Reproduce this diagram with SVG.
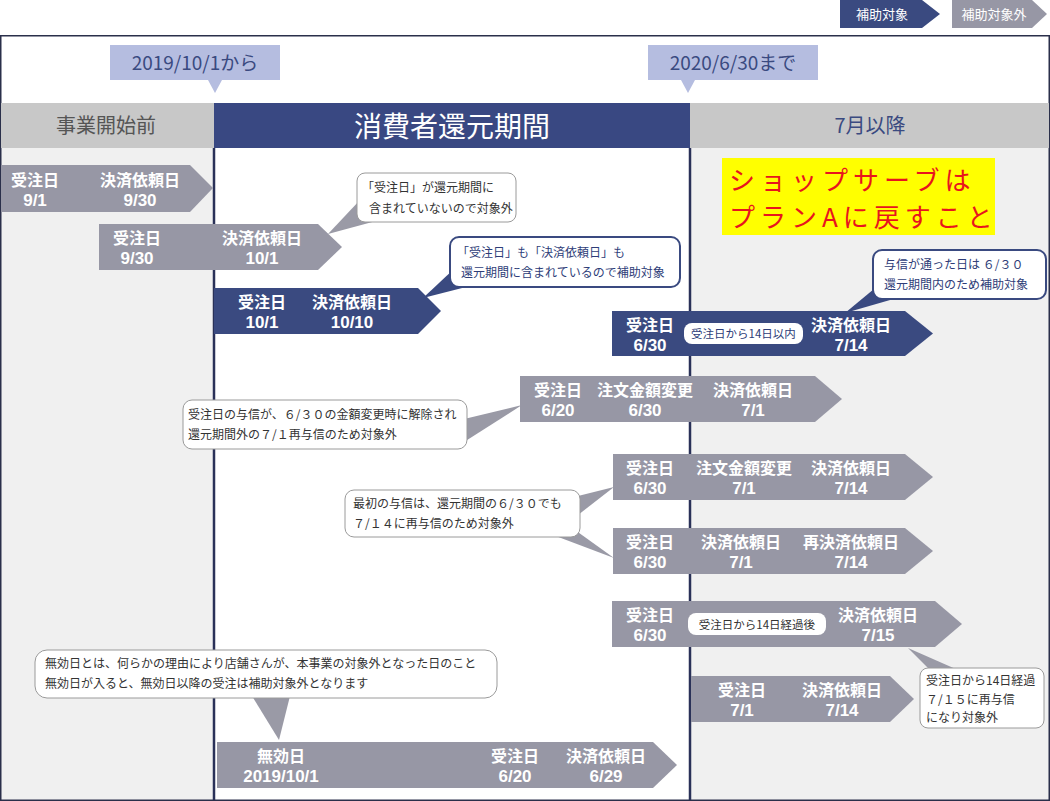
<svg xmlns="http://www.w3.org/2000/svg" width="1050" height="801" viewBox="0 0 1050 801">
<style>
text{font-family:"Noto Sans CJK JP","Noto Sans",sans-serif}
.navy{fill:#3a4a80}
.gray{fill:#9797a5}
.al{font-size:16px;font-weight:bold;fill:#fff;text-anchor:middle}
.dt{font-family:"Liberation Sans",Arial,sans-serif;font-size:17px;font-weight:bold;fill:#fff;text-anchor:middle}
.ct{font-size:12px;fill:#333}
.cn{font-size:12px;fill:#2e3d78}
.cbox{fill:#fff;stroke:#9a9a9a;stroke-width:1}
.nbox{fill:#fff;stroke:#3a4a80;stroke-width:2}
.pill{fill:#fff}
.pt{font-size:11.5px;text-anchor:middle}
.vl{stroke:#2a3158;stroke-width:2.5}
.hand{font-size:26px;fill:#e8141e;letter-spacing:5px}
</style>
<rect width="1050" height="801" fill="#fff"/>

<g id="legend">
<polygon class="navy" points="840,0 922,0 940,14 922,28 840,28"/>
<text x="882" y="19" font-size="13" fill="#fff" text-anchor="middle">補助対象</text>
<polygon class="gray" points="952,0 1032,0 1047,14 1032,28 952,28"/>
<text x="994" y="19" font-size="13" fill="#fff" text-anchor="middle">補助対象外</text>
</g>

<g id="frame">
<rect x="1" y="148" width="213" height="652" fill="#f0f0f0"/>
<rect x="690" y="148" width="359" height="652" fill="#f0f0f0"/>
<rect x="0.75" y="35.75" width="1048.5" height="764.5" fill="none" stroke="#2a2f4a" stroke-width="1.5"/>
</g>

<g id="header">
<rect x="1" y="103" width="213" height="45" fill="#c8c8c8"/>
<text x="106" y="133" font-size="20" fill="#555" text-anchor="middle">事業開始前</text>
<rect x="214" y="103" width="476" height="45" fill="#394882"/>
<text x="452" y="137" font-size="28" fill="#fff" text-anchor="middle">消費者還元期間</text>
<rect x="690" y="103" width="359" height="45" fill="#c8c8c8"/>
<text x="870" y="133" font-size="20" fill="#3a4a80" text-anchor="middle">7月以降</text>
</g>

<g id="date-start">
<rect x="110" y="45" width="170" height="35" fill="#b5bde0"/>
<polygon points="208,80 222,80 215,93" fill="#b5bde0"/>
<text x="195" y="70" font-size="19" fill="#3a4a80" text-anchor="middle">2019/10/1から</text>
</g>
<g id="date-end">
<rect x="648" y="45" width="170" height="35" fill="#b5bde0"/>
<polygon points="681,80 695,80 688,93" fill="#b5bde0"/>
<text x="733" y="70" font-size="19" fill="#3a4a80" text-anchor="middle">2020/6/30まで</text>
</g>

<g id="connectors">
<line class="vl" x1="214" y1="148" x2="214" y2="800"/>
<line class="vl" x1="690" y1="148" x2="690" y2="800"/>
</g>

<g id="note-yellow">
<rect x="722" y="158" width="273" height="77" fill="#ffff00"/>
<text class="hand" x="729" y="190">ショップサーブは</text>
<text class="hand" x="729" y="227">プランAに戻すこと</text>
</g>

<g id="arrow1">
<polygon class="gray" points="1,165 190,165 213,188 190,212 1,212"/>
<text class="al" x="35" y="186">受注日</text><text class="dt" x="35" y="206">9/1</text>
<text class="al" x="140" y="186">決済依頼日</text><text class="dt" x="140" y="206">9/30</text>
</g>
<g id="arrow2">
<polygon class="gray" points="99,224 318,224 342,247 318,270 99,270"/>
<text class="al" x="137" y="244">受注日</text><text class="dt" x="137" y="264">9/30</text>
<text class="al" x="262" y="244">決済依頼日</text><text class="dt" x="262" y="264">10/1</text>
</g>
<g id="arrow3">
<polygon class="navy" points="214,288 418,288 441,311 418,334 214,334"/>
<text class="al" x="262" y="308">受注日</text><text class="dt" x="262" y="328">10/1</text>
<text class="al" x="352" y="308">決済依頼日</text><text class="dt" x="352" y="328">10/10</text>
</g>
<g id="arrow4">
<polygon class="navy" points="612,311 905,311 933,333.5 905,356 612,356"/>
<text class="al" x="650" y="331">受注日</text><text class="dt" x="650" y="351">6/30</text>
<rect class="pill" x="684" y="323" width="119" height="21" rx="8"/>
<text class="pt" x="743.5" y="338" fill="#2e3d78">受注日から14日以内</text>
<text class="al" x="851" y="331">決済依頼日</text><text class="dt" x="851" y="351">7/14</text>
</g>
<g id="arrow5">
<polygon class="gray" points="520,376 815,376 842,399 815,422 520,422"/>
<text class="al" x="558" y="396">受注日</text><text class="dt" x="558" y="416">6/20</text>
<text class="al" x="645" y="396">注文金額変更</text><text class="dt" x="645" y="416">6/30</text>
<text class="al" x="753" y="396">決済依頼日</text><text class="dt" x="753" y="416">7/1</text>
</g>
<g id="arrow6">
<polygon class="gray" points="613,454 905,454 933,477 905,500 613,500"/>
<text class="al" x="650" y="474">受注日</text><text class="dt" x="650" y="494">6/30</text>
<text class="al" x="744" y="474">注文金額変更</text><text class="dt" x="744" y="494">7/1</text>
<text class="al" x="851" y="474">決済依頼日</text><text class="dt" x="851" y="494">7/14</text>
</g>
<g id="arrow7">
<polygon class="gray" points="613,528 905,528 933,551 905,574 613,574"/>
<text class="al" x="650" y="548">受注日</text><text class="dt" x="650" y="568">6/30</text>
<text class="al" x="741" y="548">決済依頼日</text><text class="dt" x="741" y="568">7/1</text>
<text class="al" x="851" y="548">再決済依頼日</text><text class="dt" x="851" y="568">7/14</text>
</g>
<g id="arrow8">
<polygon class="gray" points="612,601 935,601 962,624 935,647 612,647"/>
<text class="al" x="650" y="621">受注日</text><text class="dt" x="650" y="641">6/30</text>
<rect class="pill" x="688" y="613" width="138" height="22" rx="8"/>
<text class="pt" x="757" y="629" fill="#333">受注日から14日経過後</text>
<text class="al" x="878" y="621">決済依頼日</text><text class="dt" x="878" y="641">7/15</text>
</g>
<g id="arrow9">
<polygon class="gray" points="691,676 890,676 914,699 890,722 691,722"/>
<text class="al" x="742" y="696">受注日</text><text class="dt" x="742" y="716">7/1</text>
<text class="al" x="842" y="696">決済依頼日</text><text class="dt" x="842" y="716">7/14</text>
</g>
<g id="arrow10">
<polygon class="gray" points="217,742 653,742 677,765 653,788 217,788"/>
<text class="al" x="281" y="762">無効日</text><text class="dt" x="281" y="782">2019/10/1</text>
<text class="al" x="515" y="762">受注日</text><text class="dt" x="515" y="782">6/20</text>
<text class="al" x="606" y="762">決済依頼日</text><text class="dt" x="606" y="782">6/29</text>
</g>

<g id="callout-a">
<polygon points="360,200 376,221 328,234" fill="#9a9aa6"/>
<rect class="cbox" x="357" y="173" width="159" height="49" rx="8"/>
<text class="ct" x="362" y="192">「受注日」が還元期間に</text>
<text class="ct" x="369" y="213">含まれていないので対象外</text>
</g>
<g id="callout-b">
<polygon points="455,268 470,286 423,298" fill="#3a4a80"/>
<rect class="nbox" x="450" y="237" width="230" height="50" rx="9"/>
<text class="cn" x="457" y="257">「受注日」も「決済依頼日」も</text>
<text class="cn" x="461" y="277">還元期間に含まれているので補助対象</text>
</g>
<g id="callout-c">
<polygon points="880,284 897,298 845,313" fill="#3a4a80"/>
<rect class="nbox" x="873" y="250" width="173" height="49" rx="9"/>
<text class="cn" x="884" y="269">与信が通った日は ６/３０</text>
<text class="cn" x="884" y="289">還元期間内のため補助対象</text>
</g>
<g id="callout-d">
<polygon points="460,420 464,442 522,405" fill="#9a9aa6"/>
<rect class="cbox" x="183" y="400" width="284" height="49" rx="9"/>
<text class="ct" x="188" y="419">受注日の与信が、６/３０の金額変更時に解除され</text>
<text class="ct" x="188" y="439">還元期間外の７/１再与信のため対象外</text>
</g>
<g id="callout-e">
<polygon points="574,497 578,515 614,487" fill="#9a9aa6"/>
<polygon points="553,535 575,530 614,558" fill="#9a9aa6"/>
<rect class="cbox" x="345" y="490" width="235" height="47" rx="9"/>
<text class="ct" x="353" y="508">最初の与信は、還元期間の６/３０でも</text>
<text class="ct" x="353" y="528">７/１４に再与信のため対象外</text>
</g>
<g id="callout-f">
<polygon points="252,696 290,696 279,740" fill="#9a9aa6"/>
<rect class="cbox" x="35" y="650" width="462" height="48" rx="12"/>
<text class="ct" x="45" y="668">無効日とは、何らかの理由により店舗さんが、本事業の対象外となった日のこと</text>
<text class="ct" x="45" y="688">無効日が入ると、無効日以降の受注は補助対象外となります</text>
</g>
<g id="callout-g">
<polygon points="908,648 930,670 958,670" fill="#9a9aa6"/>
<rect class="cbox" x="920" y="668" width="124" height="60" rx="8"/>
<text class="ct" x="926" y="685">受注日から14日経過</text>
<text class="ct" x="926" y="704">７/１５に再与信</text>
<text class="ct" x="926" y="722">になり対象外</text>
</g>
</svg>
